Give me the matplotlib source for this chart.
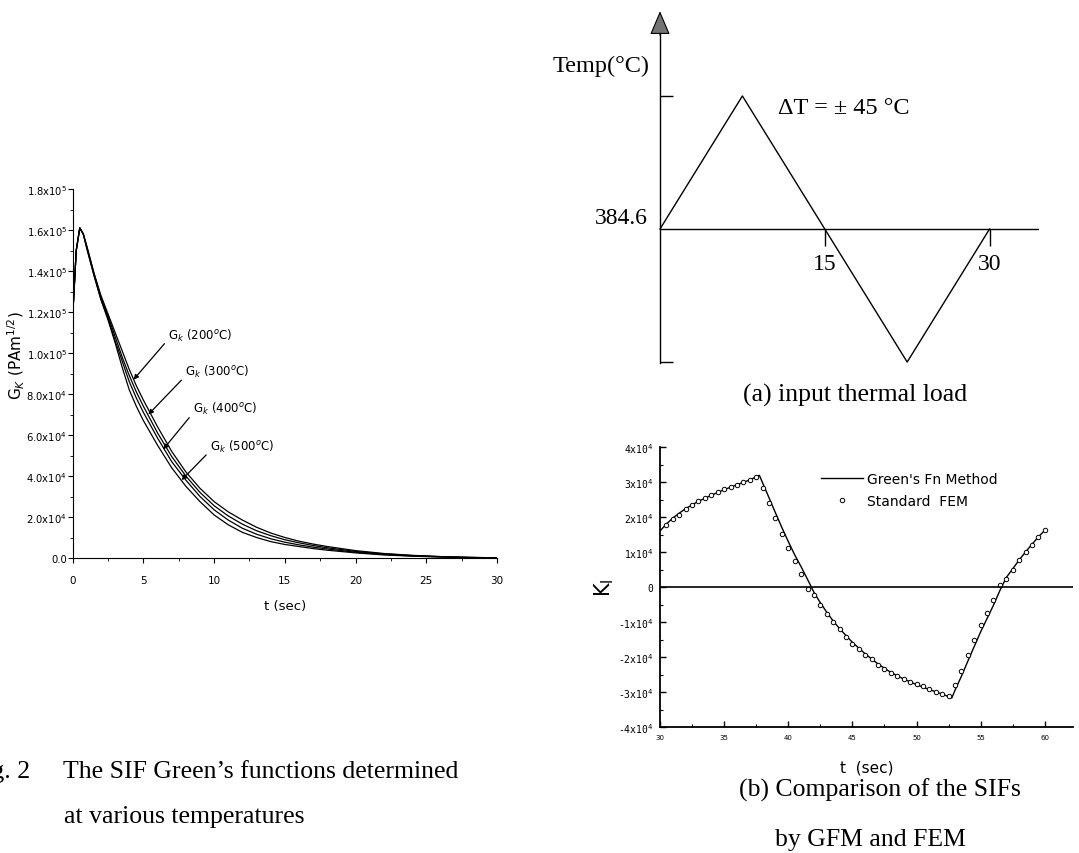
import matplotlib
matplotlib.use("Agg")
import matplotlib.pyplot as plt
from matplotlib.ticker import MultipleLocator

# ---- data ----
# left: SIF Green's functions (values x1e3)
t_g = [0, 0.25, 0.5, 0.75, 1.0, 1.5, 2.0, 2.5, 3.0, 3.5, 4.0, 4.5, 5.0, 6.0, 7.0, 8.0,
       9.0, 10.0, 11.0, 12.0, 13.0, 14.0, 15.0, 16.0, 17.0, 18.0, 20.0, 22.0, 24.0, 26.0, 28.0, 30.0]
g200 = [118, 150, 161, 158, 152, 139, 128, 119, 110, 101, 92, 84, 77, 64, 52, 42,
        34, 27.5, 22.5, 18.5, 15, 12.2, 10, 8.2, 6.8, 5.6, 3.6, 2.2, 1.3, 0.7, 0.3, 0.1]
g300 = [118, 150, 161, 158, 152, 139, 127, 118, 108, 98, 89, 81, 74, 61, 49.5, 40,
        32, 25.5, 20.5, 16.5, 13.3, 10.9, 8.9, 7.4, 6.1, 5.0, 3.2, 2.0, 1.2, 0.65, 0.3, 0.08]
g400 = [118, 150, 161, 158, 151, 138, 126, 117, 106, 96, 86, 78, 71, 58.5, 47, 38,
        30, 23.5, 18.5, 14.5, 11.6, 9.4, 7.7, 6.4, 5.3, 4.4, 2.8, 1.7, 1.0, 0.55, 0.25, 0.06]
g500 = [118, 150, 161, 158, 151, 138, 126, 116, 105, 93, 82, 74, 67, 55, 44, 35,
        27.5, 21, 16.2, 12.5, 10, 8, 6.6, 5.6, 4.6, 3.8, 2.5, 1.5, 0.9, 0.5, 0.2, 0.05]
g_labels = ["200", "300", "400", "500"]
g_yticklabels = ["0.0", "2.0x10$^4$", "4.0x10$^4$", "6.0x10$^4$", "8.0x10$^4$",
                 "1.0x10$^5$", "1.2x10$^5$", "1.4x10$^5$", "1.6x10$^5$", "1.8x10$^5$"]

# top right: input thermal load
t_load = [0, 7.5, 15, 22.5, 30]
temp_load = [384.6, 429.6, 384.6, 339.6, 384.6]
load_ticks = [15, 30]

# bottom right: K_I, Green's function method (line) and FEM (circles), in 1e4 units
t_gfm = [30, 30.5, 31, 31.5, 32, 33, 34, 35, 36, 37, 37.75, 38.5, 39, 39.5, 40, 40.5,
         41, 41.5, 42, 42.5, 43, 43.5, 44, 45, 46, 47, 48, 49, 50, 51, 52, 52.75,
         53, 53.5, 54, 54.5, 55, 55.5, 56, 56.5, 57, 57.5, 58, 58.5, 59, 59.5, 60]
k_gfm = [1.60, 1.80, 1.97, 2.11, 2.24, 2.45, 2.62, 2.78, 2.92, 3.06, 3.19, 2.55, 2.12, 1.70, 1.30, 0.92,
         0.58, 0.22, -0.15, -0.45, -0.72, -0.97, -1.19, -1.58, -1.91, -2.20, -2.44, -2.63, -2.79, -2.93, -3.06, -3.17,
         -2.95, -2.55, -2.12, -1.70, -1.28, -0.90, -0.52, -0.10, 0.27, 0.52, 0.77, 1.00, 1.22, 1.43, 1.62]
t_fem = [30.5, 31, 31.5, 32, 32.5, 33, 33.5, 34, 34.5, 35, 35.5, 36, 36.5, 37, 37.5,
         38, 38.5, 39, 39.5, 40, 40.5, 41, 41.5, 42, 42.5, 43, 43.5, 44, 44.5, 45,
         45.5, 46, 46.5, 47, 47.5, 48, 48.5, 49, 49.5, 50, 50.5, 51, 51.5, 52, 52.5,
         53, 53.5, 54, 54.5, 55, 55.5, 56, 56.5, 57, 57.5, 58, 58.5, 59, 59.5, 60]
k_fem = [1.76, 1.95, 2.07, 2.22, 2.35, 2.45, 2.54, 2.64, 2.71, 2.79, 2.86, 2.92, 3.00, 3.07, 3.14,
         2.83, 2.40, 1.97, 1.52, 1.12, 0.73, 0.38, -0.05, -0.22, -0.50, -0.76, -1.00, -1.21, -1.43, -1.62,
         -1.76, -1.93, -2.07, -2.22, -2.33, -2.45, -2.54, -2.62, -2.71, -2.78, -2.84, -2.92, -3.00, -3.05, -3.12,
         -2.81, -2.40, -1.95, -1.52, -1.09, -0.74, -0.38, 0.05, 0.24, 0.50, 0.76, 1.00, 1.21, 1.43, 1.62]
k_yticks = [-4, -3, -2, -1, 0, 1, 2, 3, 4]
k_xticks = [30, 35, 40, 45, 50, 55, 60]

W, H = 1079, 854
SERIF = "Liberation Serif"


def box(l, t, r, b):
    # pixel box -> figure fraction
    return [l / W, 1 - b / H, (r - l) / W, (b - t) / H]


def ftxt(x, y, s, **kw):
    fig.text(x / W, 1 - y / H, s, **kw)


fig = plt.figure(figsize=(W / 100, H / 100), dpi=100)

# ---------------- left panel ----------------
ax1 = fig.add_axes(box(72.7, 190, 497, 559))
for g in (g200, g300, g400, g500):
    ax1.plot(t_g, [v * 1e3 for v in g], color="k", lw=0.9)
ax1.set_xlim(0, 30)
ax1.set_ylim(0, 1.8e5)
ax1.spines[["top", "right"]].set_visible(False)
ax1.xaxis.set_major_locator(MultipleLocator(5))
ax1.xaxis.set_minor_locator(MultipleLocator(2.5))
ax1.set_yticks([i * 2e4 for i in range(10)])
ax1.set_yticklabels(g_yticklabels)
ax1.yaxis.set_minor_locator(MultipleLocator(1e4))
ax1.tick_params(which="both", direction="out", labelsize=7.2)
ax1.tick_params(axis="y", pad=0.5)
ax1.tick_params(axis="x", pad=9, labelsize=7.5)
ax1.tick_params(which="major", length=3.5)
ax1.tick_params(which="minor", length=2.2)
ax1.set_xlabel("t (sec)", fontsize=9.5, labelpad=10)
ax1.set_ylabel("G$_K$ (PAm$^{1/2}$)", fontsize=11)
ax1.yaxis.set_label_coords(-0.108, 0.55)

# arrows pointing at the curve band
ann_xy = [(4.3, 87e3), (5.35, 70e3), (6.4, 53e3), (7.7, 38e3)]
ann_txt = [(6.75, 109e3), (7.95, 91e3), (8.5, 73e3), (9.7, 54.5e3)]
for lab, xy, xt in zip(g_labels, ann_xy, ann_txt):
    ax1.annotate("G$_k$ (" + lab + "$^o$C)", xy=xy, xytext=xt, fontsize=8.5,
                 ha="left", va="center",
                 arrowprops=dict(arrowstyle="-|>", color="k", lw=0.9,
                                 mutation_scale=7, relpos=(0, 0.2), shrinkA=1, shrinkB=0))

ftxt(30, 772, "Fig. 2", ha="right", va="center", fontsize=18.5, family=SERIF)
ftxt(63, 772, "The SIF Green\u2019s functions determined", ha="left", va="center",
     fontsize=18.5, family=SERIF)
ftxt(64, 817, "at various temperatures", ha="left", va="center", fontsize=18.5, family=SERIF)

# ---------------- top right: thermal load ----------------
ax2 = fig.add_axes(box(660, 33, 1039, 363.5))
ax2.plot(t_load, temp_load, color="k", lw=1.0, clip_on=False)
ax2.axhline(temp_load[0], color="k", lw=1.0)
ax2.vlines(load_ticks, temp_load[0] - 5.7, temp_load[0], color="k", lw=1.0)
ax2.set_xlim(0, 34.5)
ax2.set_ylim(339.44, 451.24)
for s in ("top", "right", "bottom"):
    ax2.spines[s].set_visible(False)
ax2.spines["left"].set_linewidth(1.0)
ax2.set_xticks([])
ax2.set_yticks([max(temp_load), min(temp_load)])
ax2.set_yticklabels(["", ""])
ax2.tick_params(axis="y", direction="in", length=9, width=1.0)
ax2.annotate("", xy=(0, 1.063), xytext=(0, 0.99), xycoords="axes fraction",
             arrowprops=dict(arrowstyle="-|>,head_length=0.75,head_width=0.32",
                             fc="0.45", ec="k", lw=0.8, mutation_scale=20,
                             shrinkA=0, shrinkB=0))
for tk in load_ticks:
    ax2.text(tk, temp_load[0] - 8.0, str(tk), ha="center", va="top", fontsize=17, family=SERIF)
ftxt(650, 66, "Temp(\u00b0C)", ha="right", va="center", fontsize=17.5, family=SERIF)
ftxt(648, 219, "384.6", ha="right", va="center", fontsize=17, family=SERIF)
ftxt(778, 109, "\u0394T = \u00b1 45 \u00b0C", ha="left", va="center", fontsize=17.5, family=SERIF)
ftxt(855, 395, "(a) input thermal load", ha="center", va="center", fontsize=18.5, family=SERIF)

# ---------------- bottom right: K_I comparison ----------------
ax3 = fig.add_axes(box(660, 448, 1073, 728))
ax3.plot(t_gfm, [v * 1e4 for v in k_gfm], color="k", lw=1.0, label="Green's Fn Method")
ax3.plot(t_fem, [v * 1e4 for v in k_fem], ls="none", marker="o", ms=3.2, mfc="white",
         mec="k", mew=0.7, label="Standard  FEM")
ax3.axhline(0, color="k", lw=1.2)
ax3.set_xlim(30, 62.2)
ax3.set_ylim(-4e4, 4e4)
ax3.spines[["top", "right"]].set_visible(False)
ax3.spines[["left", "bottom"]].set_linewidth(1.3)
ax3.set_xticks(k_xticks)
ax3.set_xticklabels([str(v) for v in k_xticks])
ax3.xaxis.set_minor_locator(MultipleLocator(2.5))
ax3.set_yticks([v * 1e4 for v in k_yticks])
ax3.set_yticklabels([("0" if v == 0 else ("%dx10$^4$" % v)) for v in k_yticks],
                    family="DejaVu Sans Mono")
ax3.yaxis.set_minor_locator(MultipleLocator(5e3))
ax3.tick_params(which="both", direction="in")
ax3.tick_params(axis="y", labelsize=7, pad=5)
ax3.tick_params(axis="x", labelsize=5, pad=5, colors="k")
ax3.tick_params(which="major", length=4, width=1.0)
ax3.tick_params(which="minor", length=2, width=0.8)
ax3.set_xlabel("t  (sec)", fontsize=11, labelpad=14)
ax3.set_ylabel("K$_\\mathregular{I}$", fontsize=15, labelpad=1)
ax3.legend(loc="upper left", bbox_to_anchor=(0.374, 0.935), frameon=False, fontsize=10,
           handlelength=3.0, handletextpad=0.3, labelspacing=0.55, borderpad=0)
ftxt(880, 790, "(b) Comparison of the SIFs", ha="center", va="center", fontsize=18.5, family=SERIF)
ftxt(870, 840, "by GFM and FEM", ha="center", va="center", fontsize=18.5, family=SERIF)

fig.savefig("out.png", dpi=100)
